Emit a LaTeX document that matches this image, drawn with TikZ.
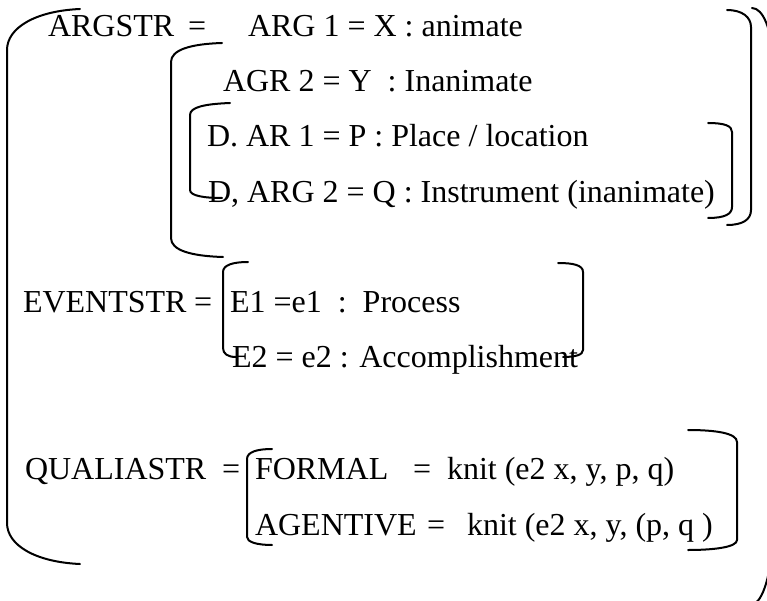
\documentclass[tikz,border=0pt]{standalone}
\usepackage{fontspec}
\setmainfont{Liberation Serif}
\begin{document}
\begin{tikzpicture}[x=1pt,y=-1pt,
  txt/.style={anchor=base west,inner sep=0pt,outer sep=0pt,font=\fontsize{32}{38}\selectfont},
  brk/.style={line width=2pt,line cap=round}]
\useasboundingbox (0,0) rectangle (767,601);
\clip (0,0) rectangle (767,601);
% text
\node[txt] (argstr) at (48,37) {ARGSTR};
\node[txt] (eqa) at (188,37) {=};
\node[txt] (arg1) at (248,37) {ARG 1 = X : animate};
\node[txt] (agr2) at (223,92) {AGR 2 = Y\ \ : Inanimate};
\node[txt] (dar1) at (207,147) {D. AR 1 = P : Place / location};
\node[txt] (darg2) at (208,203) {D, ARG 2 = Q : Instrument (inanimate)};
\node[txt] (evstr) at (23,312) {EVENTSTR};
\node[txt] (eqe) at (194,312) {=};
\node[txt] (e1) at (230,312) {E1 =e1\ \ :\ \ Process};
\node[txt] (e2) at (232,367) {E2 = e2 : Accomplishment};
\node[txt] (qstr) at (25,479) {QUALIASTR};
\node[txt] (eqq) at (222,479) {=};
\node[txt] (formal) at (255,479) {FORMAL};
\node[txt] (eqf) at (413,479) {=};
\node[txt] (knit1) at (447,479) {knit (e2 x, y, p, q)};
\node[txt] (agent) at (255,535) {AGENTIVE};
\node[txt] (eqg) at (427,535) {=};
\node[txt] (knit2) at (467,535) {knit (e2 x, y, (p, q )};
% brackets
\draw[brk] (80,9) .. controls (35,11) and (7,28) .. (7,50) -- (7,523) .. controls (7,545) and (35,562) .. (80,564);
\draw[brk] (222,43) .. controls (190,44) and (171,50) .. (171,62) -- (171,238) .. controls (171,250) and (190,256) .. (223,257);
\draw[brk] (230,103) .. controls (205,104) and (190,107) .. (190,115) -- (190,190) .. controls (190,196) and (205,198) .. (222,198);
\draw[brk] (708,123) .. controls (725,123) and (732,126) .. (732,132) -- (732,207) .. controls (732,214) and (725,218) .. (708,218);
\draw[brk] (727,10) .. controls (742,10) and (751,17) .. (751,27) -- (751,210) .. controls (751,220) and (742,225) .. (727,225);
\draw[brk] (752,8) .. controls (763,8) and (772,30) .. (772,58) -- (772,540) .. controls (772,570) and (763,604) .. (752,604);
\draw[brk] (248,262) .. controls (233,262) and (223,265) .. (223,272) -- (223,348) .. controls (223,354) and (228,357) .. (236,357);
\draw[brk] (558,263) .. controls (573,263) and (583,265) .. (583,272) -- (583,350) .. controls (583,355) and (575,357) .. (563,357);
\draw[brk] (272,449) .. controls (257,449) and (247,452) .. (247,459) -- (247,537) .. controls (247,542) and (257,545) .. (272,545);
\draw[brk] (688,430) .. controls (715,430) and (737,433) .. (737,442) -- (737,540) .. controls (737,547) and (715,550) .. (688,550);
\end{tikzpicture}
\end{document}
